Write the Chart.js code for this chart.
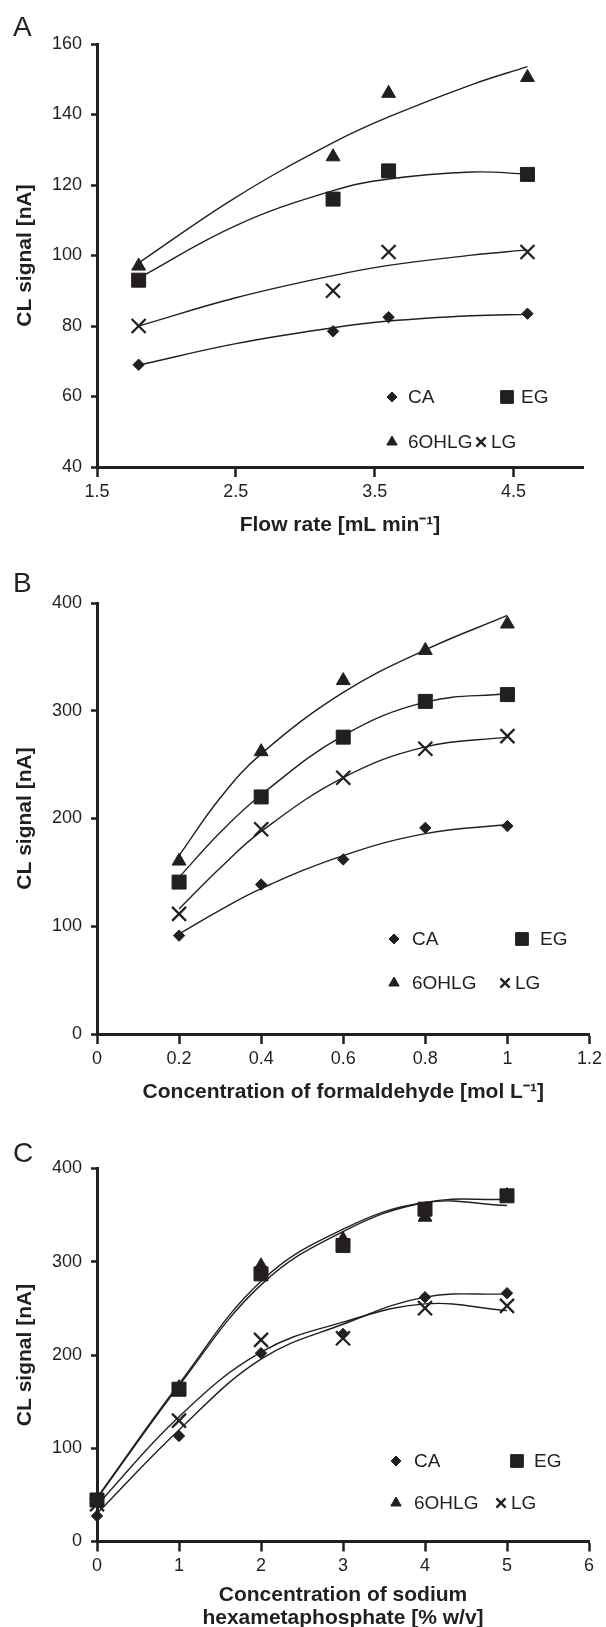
<!DOCTYPE html>
<html>
<head>
<meta charset="utf-8">
<script src="https://cdn.jsdelivr.net/npm/chart.js@4.4.1/dist/chart.umd.min.js"></script>
<style>
  html, body { margin: 0; padding: 0; background: #fff; overflow: hidden; }
  #page { position: relative; width: 606px; height: 1627px; }
  canvas { position: absolute; left: 0; }
  .tag { position: absolute; left: 13px; font: 28px/28px "Liberation Sans", Arial, sans-serif; color: #231f20; }
</style>
</head>
<body>
<div id="page">
  <canvas id="chartA" width="606" height="537" style="top:0px"></canvas>
  <canvas id="chartB" width="606" height="544" style="top:560px"></canvas>
  <canvas id="chartC" width="606" height="520" style="top:1110px"></canvas>
  <div class="tag" style="top:13px">A</div>
  <div class="tag" style="top:569px">B</div>
  <div class="tag" style="top:1139px">C</div>
</div>
<script>
const INK = '#231f20';
const seriesNames = ['CA', 'EG', '6OHLG', 'LG'];

// A - flow rate
const flowX = [1.8, 3.2, 3.6, 4.6];
const flowCA = [69, 78.5, 82.5, 83.5];
const flowEG = [93, 116, 124, 123];
const flowOH = [97, 128, 146, 150.5];
const flowLG = [80, 90, 101, 101];
// trend lines
const flowFitX = [1.8, 2.5, 3.2, 3.6, 4.2, 4.6];
const flowFitCA = [68.9, 75, 79.5, 81.4, 82.9, 83.3];
const flowFitEG = [93.6, 108.5, 118.4, 121.7, 123.7, 123.1];
const flowFitOH = [97.9, 116.5, 132, 139.3, 148.5, 153.6];
const flowFitLG = [80, 88, 94.3, 97.2, 100.1, 101.6];
const flowTicksX = [1.5, 2.5, 3.5, 4.5];
const flowTicksY = [40, 60, 80, 100, 120, 140, 160];

// B - formaldehyde
const formX = [0.2, 0.4, 0.6, 0.8, 1];
const formCA = [91.3, 138.7, 162, 191.3, 193];
const formEG = [141, 220, 275.5, 308.7, 315];
const formOH = [160.5, 262, 328, 356, 380.5];
const formLG = [111.5, 190, 237.8, 264.7, 276.5];
const formFitX = [0.2, 0.3, 0.4, 0.6, 0.8, 1];
const formFitCA = [92.9, 115, 135, 165.6, 186, 194.4];
const formFitEG = [145.5, 187, 222, 277, 308, 315.8];
const formFitOH = [165.6, 219, 260, 317, 356.5, 388.5];
const formFitLG = [116, 154, 188, 238, 266.5, 275.5];
const formTicksX = [0, 0.2, 0.4, 0.6, 0.8, 1, 1.2];
const formTicksY = [0, 100, 200, 300, 400];

// C - sodium hexametaphosphate
const hexaX = [0, 1, 2, 3, 4, 5];
const hexaCA = [27.4, 113.2, 202, 222.6, 262, 266.3];
const hexaEG = [44.5, 163.3, 287, 317.4, 356.4, 370.7];
const hexaOH = [45, 165, 295.6, 324, 347.8, 371];
const hexaLG = [40, 129.6, 216.2, 218, 250.2, 252.7];
const hexaFitX = [0, 1, 2, 3, 4, 5];
const hexaFitCA = [30, 119.6, 195.5, 233, 262, 265.5];
const hexaFitEG = [46, 167, 275.2, 332.4, 363.5, 367];
const hexaFitOH = [47, 169, 279, 335, 363.5, 360.3];
const hexaFitLG = [39, 133.9, 203, 235.2, 254.8, 247.6];
const hexaTicksX = [0, 1, 2, 3, 4, 5, 6];
const hexaTicksY = [0, 100, 200, 300, 400];

const FAMILY = '"Liberation Sans", Arial, sans-serif';
const tickFont = { family: FAMILY, size: 18 };
const titleFont = { family: FAMILY, size: 21, weight: 'bold', lineHeight: 1.1 };

function pairs(xs, ys) {
  return xs.map((x, i) => ({ x: x, y: ys[i] }));
}

// legend drawn inside the plot, like the original
const cornerLegend = {
  id: 'cornerLegend',
  afterDatasetsDraw(chart, args, opts) {
    if (!opts.items) return;
    const ctx = chart.ctx;
    ctx.save();
    ctx.font = '19px ' + FAMILY;
    ctx.textBaseline = 'middle';
    ctx.fillStyle = INK;
    ctx.strokeStyle = INK;
    opts.items.forEach((it) => {
      const ds = chart.data.datasets[it.ds];
      ctx.lineWidth = ds.borderWidth;
      Chart.helpers.drawPoint(ctx, { pointStyle: ds.pointStyle, radius: it.r, rotation: 0, borderWidth: ds.borderWidth }, it.x, it.y);
      ctx.fillStyle = INK;
      ctx.fillText(ds.label, it.tx, it.y + 1);
    });
    ctx.restore();
  }
};

function makePanel(id, p) {
  const styles = [
    { pointStyle: 'rectRot', pointRadius: 5.7, borderWidth: 1 },
    { pointStyle: 'rect', pointRadius: 9.9, borderWidth: 1 },
    { pointStyle: 'triangle', pointRadius: 8, borderWidth: 1 },
    { pointStyle: 'crossRot', pointRadius: 9.9, borderWidth: 2.3 }
  ];
  const points = p.series.map((ys, i) => Object.assign({
    label: seriesNames[i],
    data: pairs(p.x, ys),
    backgroundColor: INK,
    borderColor: INK,
    clip: false
  }, styles[i]));
  const fits = p.fits.map((ys, i) => ({
    label: seriesNames[i] + ' fit',
    data: pairs(p.fitX, ys),
    showLine: true,
    pointRadius: 0,
    borderColor: INK,
    borderWidth: 1.4,
    tension: 0.4,
    fill: false,
    clip: false
  }));

  new Chart(document.getElementById(id), {
    type: 'scatter',
    data: { datasets: points.concat(fits) },
    plugins: [cornerLegend],
    options: {
      responsive: false,
      animation: false,
      devicePixelRatio: 1,
      layout: { autoPadding: false, padding: { top: p.padTop, right: p.padRight, left: 0, bottom: 0 } },
      plugins: {
        legend: { display: false },
        tooltip: { enabled: false },
        cornerLegend: { items: p.legend }
      },
      scales: {
        x: {
          type: 'linear',
          min: p.xMin,
          max: p.xMax,
          afterBuildTicks: (ax) => { ax.ticks = p.xTicks.map((v) => ({ value: v })); },
          afterFit: (s) => { s.height = p.xHeight; },
          grid: { drawOnChartArea: false, drawTicks: true, tickLength: 10, tickWidth: 2.5, tickColor: INK },
          border: { display: true, color: INK, width: 3 },
          ticks: { color: INK, font: tickFont, padding: 4, maxRotation: 0, autoSkip: false, callback: (v) => String(v) },
          title: { display: true, text: p.xTitle, color: INK, font: titleFont, padding: { top: 0, bottom: 0 } }
        },
        y: {
          type: 'linear',
          min: p.yMin,
          max: p.yMax,
          afterBuildTicks: (ax) => { ax.ticks = p.yTicks.map((v) => ({ value: v })); },
          afterFit: (s) => { s.width = 97; },
          grid: { drawOnChartArea: false, drawTicks: true, tickLength: 6, tickWidth: 2.5, tickColor: INK },
          border: { display: true, color: INK, width: 3 },
          ticks: { color: INK, font: tickFont, padding: 9, autoSkip: false, callback: (v) => String(v) },
          title: { display: true, text: 'CL signal [nA]', color: INK, font: titleFont, padding: { top: 13.5, bottom: 0 } }
        }
      }
    }
  });
}

makePanel('chartA', {
  x: flowX, series: [flowCA, flowEG, flowOH, flowLG],
  fitX: flowFitX, fits: [flowFitCA, flowFitEG, flowFitOH, flowFitLG],
  xMin: 1.5, xMax: 5, yMin: 40, yMax: 160,
  xTicks: flowTicksX, yTicks: flowTicksY,
  xTitle: 'Flow rate [mL min\u207B\u00B9]',
  padTop: 44, padRight: 23, xHeight: 70,
  legend: [
    { ds: 0, r: 5, x: 392, y: 397, tx: 408 },
    { ds: 1, r: 9, x: 507, y: 397, tx: 521 },
    { ds: 2, r: 6, x: 392, y: 442, tx: 408 },
    { ds: 3, r: 6.5, x: 481, y: 442, tx: 491 }
  ]
});

makePanel('chartB', {
  x: formX, series: [formCA, formEG, formOH, formLG],
  fitX: formFitX, fits: [formFitCA, formFitEG, formFitOH, formFitLG],
  xMin: 0, xMax: 1.2, yMin: 0, yMax: 400,
  xTicks: formTicksX, yTicks: formTicksY,
  xTitle: 'Concentration of formaldehyde [mol L\u207B\u00B9]',
  padTop: 43, padRight: 13, xHeight: 70,
  legend: [
    { ds: 0, r: 5, x: 394, y: 379, tx: 412 },
    { ds: 1, r: 9, x: 522, y: 379, tx: 540 },
    { ds: 2, r: 6, x: 394, y: 423, tx: 412 },
    { ds: 3, r: 6.5, x: 505, y: 423, tx: 515 }
  ]
});

makePanel('chartC', {
  x: hexaX, series: [hexaCA, hexaEG, hexaOH, hexaLG],
  fitX: hexaFitX, fits: [hexaFitCA, hexaFitEG, hexaFitOH, hexaFitLG],
  xMin: 0, xMax: 6, yMin: 0, yMax: 400,
  xTicks: hexaTicksX, yTicks: hexaTicksY,
  xTitle: ['Concentration of sodium', 'hexametaphosphate [% w/v]'],
  padTop: 58.5, padRight: 17, xHeight: 88.5,
  legend: [
    { ds: 0, r: 5, x: 396, y: 351, tx: 414 },
    { ds: 1, r: 9, x: 517, y: 351, tx: 534 },
    { ds: 2, r: 6, x: 396, y: 393, tx: 414 },
    { ds: 3, r: 6.5, x: 501, y: 393, tx: 511 }
  ]
});
</script>
</body>
</html>
